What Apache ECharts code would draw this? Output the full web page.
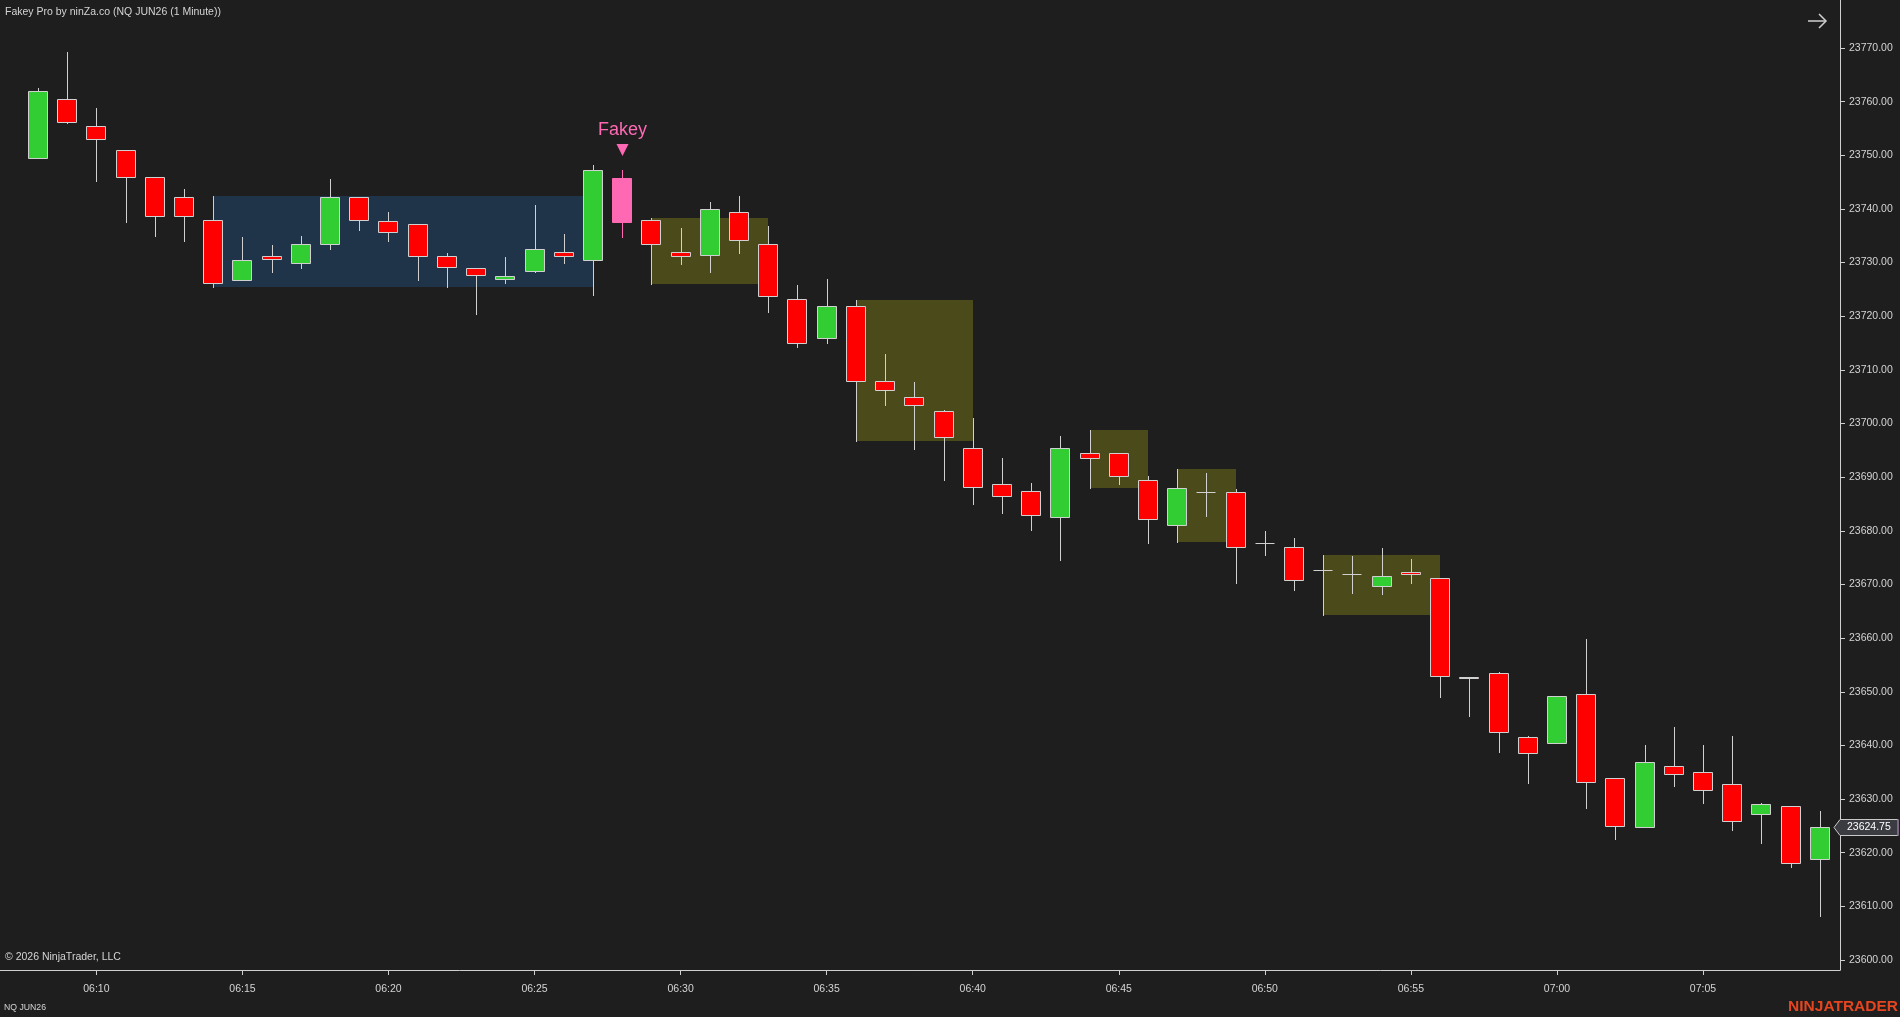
<!DOCTYPE html>
<html>
<head>
<meta charset="utf-8">
<script src="https://cdn.jsdelivr.net/npm/echarts@6/dist/echarts.min.js"></script>
<style>
html,body{margin:0;padding:0;background:#1e1e1e;overflow:hidden}
#chart{width:1900px;height:1017px}
</style>
</head>
<body>
<div id="chart"></div>
<script>
// ---- data (NQ JUN26, 1 minute) ----
const times = ['06:08','06:09','06:10','06:11','06:12','06:13','06:14','06:15','06:16','06:17','06:18','06:19','06:20','06:21','06:22','06:23','06:24','06:25','06:26','06:27','06:28','06:29','06:30','06:31','06:32','06:33','06:34','06:35','06:36','06:37','06:38','06:39','06:40','06:41','06:42','06:43','06:44','06:45','06:46','06:47','06:48','06:49','06:50','06:51','06:52','06:53','06:54','06:55','06:56','06:57','06:58','06:59','07:00','07:01','07:02','07:03','07:04','07:05','07:06','07:07','07:08','07:09'];
const opens  = [23749.5,23760.5,23755.5,23751,23746,23742.25,23738,23726.75,23731.25,23730,23733.5,23742.25,23737.75,23737.25,23731.25,23729,23727,23728.5,23732,23730.5,23745.75,23738,23732,23731.5,23739.5,23733.5,23723.25,23716,23722,23708,23705,23702.25,23695.5,23688.75,23687.5,23682.5,23694.5,23694.5,23689.5,23681,23687.25,23687.25,23677.75,23677,23672.75,23672,23669.75,23672.25,23671.25,23652.75,23653.5,23641.5,23640.5,23649.5,23634,23624.75,23636.25,23635,23632.75,23627.25,23628.75,23618.75];
const highs  = [23762.5,23769.25,23758.75,23751,23746,23743.75,23742.5,23734.75,23733.25,23735,23745.5,23742.25,23739.5,23737.25,23731.75,23729,23731,23740.75,23735.25,23748.25,23747.25,23738.25,23736.5,23741.25,23742.5,23736.75,23725.75,23727,23723,23713,23707.75,23702.5,23701,23693.5,23689,23697.75,23698.75,23694.5,23690.25,23691.5,23690.75,23687.75,23680,23678.75,23675.5,23675.25,23676.75,23674.75,23671.25,23652.75,23653.75,23641.75,23649.25,23659.75,23634,23640,23643.5,23640,23641.75,23629.25,23628.75,23627.75];
const lows   = [23749.5,23756,23745.25,23737.5,23735,23734,23725.5,23726.75,23728.25,23729,23732.5,23736,23734,23726.75,23725.5,23720.5,23726.25,23728.25,23730,23724,23734.75,23726,23729.75,23728.25,23731.75,23720.75,23714.25,23715,23696.75,23703.5,23695.25,23689.5,23685,23683.25,23680.25,23674.5,23688,23688.75,23677.75,23678,23682.75,23670.25,23675.5,23669,23664.25,23668.5,23668.25,23670.25,23649,23645.5,23638.75,23633,23640.5,23628.25,23622.5,23624.75,23632.5,23629.25,23624.25,23621.75,23617.25,23608.25];
const closes = [23762,23756.25,23753,23746,23738.75,23738.75,23726.25,23730.5,23730.75,23733.5,23742.25,23738,23735.75,23731.25,23729.25,23727.75,23727.5,23732.5,23731.25,23747.25,23737.5,23733.5,23731.25,23740,23734.25,23723.75,23715,23722,23708,23706.25,23703.5,23697.5,23688.25,23686.5,23683,23695.5,23693.5,23690.25,23682.25,23688,23687.25,23677,23677.75,23670.75,23672.75,23672,23671.5,23672,23653,23652.5,23642.5,23638.5,23649.25,23633.25,23625,23637,23634.75,23631.75,23626,23629,23618,23624.75];

// consolidation boxes (range of the start bar, extended to end bar)
const boxStart = ['06:14','06:29','06:36','06:44','06:47','06:52'];
const boxEnd   = ['06:27','06:33','06:40','06:46','06:49','06:56'];
const boxHigh  = [23742.5,23738.25,23723,23698.75,23691.5,23675.5];
const boxLow   = [23725.5,23726,23696.75,23688,23678,23664.25];
const boxKind  = ['range','inside','inside','inside','inside','inside'];

// Fakey signal
const signalTime = '06:28';
const signalLabel = 'Fakey';

// axis ticks
const xTickLabels = ['06:10','06:15','06:20','06:25','06:30','06:35','06:40','06:45','06:50','06:55','07:00','07:05'];
const yTicks = [23600,23610,23620,23630,23640,23650,23660,23670,23680,23690,23700,23710,23720,23730,23740,23750,23760,23770];

// ---- helpers / styles ----
const toMin = t => { const p = t.split(':').map(Number); return p[0]*60 + p[1]; };
const fmtMin = v => { const h = Math.floor(v/60), m = Math.round(v - h*60); return String(h).padStart(2,'0') + ':' + String(m).padStart(2,'0'); };

const BG = '#1e1e1e', TXT = '#d4d4d4', AXIS = '#cfcfcf', EDGE = '#d0d0d0';
const GREEN = '#32cd32', RED = '#ff0000', PINK = '#ff69b4';
const BOXCOL = { range: '#1f3449', inside: '#4b4a1a' };
const FONT = '"Liberation Sans", Arial, sans-serif';

const xs = times.map(toMin);
const candleData = times.map((t, i) => [xs[i], opens[i], closes[i], lows[i], highs[i]]);
const signalIdx = times.indexOf(signalTime);
const boxData = boxStart.map((s, i) => [toMin(s), toMin(boxEnd[i]), boxLow[i], boxHigh[i], i]);
const lastIdx = times.length - 1;

const xMin = xs[0] - 1.299, xMax = xs[0] + 61.69;
const yMin = 23598.14, yMax = 23778.95;
const xTickVals = xTickLabels.map(toMin);

function renderCandle(params, api) {
  const x = api.value(0), o = api.value(1), c = api.value(2), l = api.value(3), h = api.value(4);
  const isSig = params.dataIndex === signalIdx;
  const fill = isSig ? PINK : (c > o ? GREEN : RED);
  const edge = isSig ? PINK : EDGE;
  const pO = api.coord([x, o]), pC = api.coord([x, c]), pH = api.coord([x, h]), pL = api.coord([x, l]);
  const cx = Math.round(pO[0]);
  const bw = 19, left = cx - 9.5;
  const yTop = Math.round(Math.min(pO[1], pC[1])) + 0.5;
  const yBot = Math.round(Math.max(pO[1], pC[1])) + 0.5;
  const children = [{
    type: 'line',
    shape: { x1: cx + 0.5, y1: Math.round(pH[1]), x2: cx + 0.5, y2: Math.round(pL[1]) + 1 },
    style: { stroke: edge, lineWidth: 1 }
  }];
  if (o === c) {
    children.push({ type: 'line', shape: { x1: left, y1: yTop, x2: left + bw, y2: yTop }, style: { stroke: edge, lineWidth: 1 } });
  } else {
    children.push({ type: 'rect', shape: { x: left, y: yTop, width: bw, height: Math.max(yBot - yTop, 1) },
      style: { fill: fill, stroke: edge, lineWidth: 1 } });
  }
  return { type: 'group', children: children };
}

function renderBox(params, api) {
  const p0 = api.coord([api.value(0), api.value(3)]);
  const p1 = api.coord([api.value(1), api.value(2)]);
  const kind = boxKind[api.value(4)];
  return { type: 'rect', shape: { x: Math.round(p0[0]), y: Math.round(p0[1]), width: Math.round(p1[0]) - Math.round(p0[0]), height: Math.round(p1[1]) - Math.round(p0[1]) },
    style: { fill: BOXCOL[kind] } };
}

function renderSignal(params, api) {
  const p = api.coord([api.value(0), api.value(1)]);
  const cx = Math.round(p[0]) + 0.5, y = p[1];
  return { type: 'group', children: [
    { type: 'polygon', shape: { points: [[cx - 6, y - 26], [cx + 6, y - 26], [cx, y - 14]] }, style: { fill: PINK } },
    { type: 'text', x: cx, y: y - 40, style: { text: signalLabel, fill: PINK, font: '18px ' + FONT, align: 'center', verticalAlign: 'middle' } }
  ] };
}

function renderTag(params, api) {
  const p = api.coord([api.value(0), api.value(1)]);
  const xr = params.coordSys.x + params.coordSys.width;
  const y = Math.round(p[1]) + 0.5;
  return { type: 'group', children: [
    { type: 'polygon', shape: { points: [[xr - 6, y], [xr, y - 8], [xr + 58, y - 8], [xr + 58, y + 8], [xr, y + 8]] },
      style: { fill: '#3b3b42', stroke: '#c8c8c8', lineWidth: 1 } },
    { type: 'rect', shape: { x: xr + 57, y: y - 8, width: 2, height: 16 }, style: { fill: '#7c6882' } },
    { type: 'text', x: xr + 7, y: y, style: { text: api.value(1).toFixed(2), fill: '#ffffff', font: '10.5px ' + FONT, align: 'left', verticalAlign: 'middle' } }
  ] };
}

const chart = echarts.init(document.getElementById('chart'), null, { renderer: 'canvas' });
chart.setOption({
  backgroundColor: BG,
  animation: false,
  grid: { left: 0, right: 60, top: 0, bottom: 47, containLabel: false },
  xAxis: {
    type: 'value', min: xMin, max: xMax,
    axisLine: { show: true, lineStyle: { color: AXIS, width: 1 } },
    axisTick: { show: true, customValues: xTickVals, length: 5, lineStyle: { color: AXIS } },
    axisLabel: { customValues: xTickVals, formatter: v => fmtMin(v), color: TXT, fontSize: 10.5, fontFamily: FONT, margin: 14 },
    splitLine: { show: false }
  },
  yAxis: {
    type: 'value', position: 'right', min: yMin, max: yMax, scale: true,
    axisLine: { show: true, lineStyle: { color: AXIS, width: 1 } },
    axisTick: { show: true, customValues: yTicks, length: 5, lineStyle: { color: AXIS } },
    axisLabel: { customValues: yTicks, formatter: v => v.toFixed(2), color: TXT, fontSize: 10.5, fontFamily: FONT, margin: 9 },
    splitLine: { show: false }
  },
  series: [
    { type: 'custom', name: 'boxes', data: boxData, encode: { x: [0, 1], y: [2, 3] }, renderItem: renderBox, z: 1, silent: true },
    { type: 'custom', name: 'NQ JUN26', data: candleData, encode: { x: 0, y: [1, 2, 3, 4] }, renderItem: renderCandle, z: 2, silent: true },
    { type: 'custom', name: 'signal', data: [[toMin(signalTime), highs[signalIdx]]], encode: { x: 0, y: 1 }, renderItem: renderSignal, z: 3, silent: true },
    { type: 'custom', name: 'last', data: [[xs[lastIdx], closes[lastIdx]]], encode: { x: 0, y: 1 }, renderItem: renderTag, z: 4, silent: true, clip: false }
  ],
  graphic: [
    { type: 'text', x: 5, y: 12, style: { text: 'Fakey Pro by ninZa.co (NQ JUN26 (1 Minute))', fill: TXT, font: '10.5px ' + FONT, verticalAlign: 'middle' } },
    { type: 'text', x: 5, y: 957.5, style: { text: '© 2026 NinjaTrader, LLC', fill: TXT, font: '10.5px ' + FONT, verticalAlign: 'middle' } },
    { type: 'text', x: 4, y: 1008, style: { text: 'NQ JUN26', fill: TXT, font: '8.7px ' + FONT, verticalAlign: 'middle' } },
    { type: 'text', x: 1898, y: 1007, style: { text: 'NINJATRADER', fill: '#e5451f', font: 'bold 15.5px ' + FONT, align: 'right', verticalAlign: 'middle' } },
    { type: 'polyline', shape: { points: [[1808, 21], [1826, 21]] }, style: { stroke: '#d0d0d0', lineWidth: 1.5 } },
    { type: 'polyline', shape: { points: [[1819, 14], [1826, 21], [1819, 28]] }, style: { stroke: '#d0d0d0', lineWidth: 1.5, fill: null } }
  ]
});
</script>
</body>
</html>
